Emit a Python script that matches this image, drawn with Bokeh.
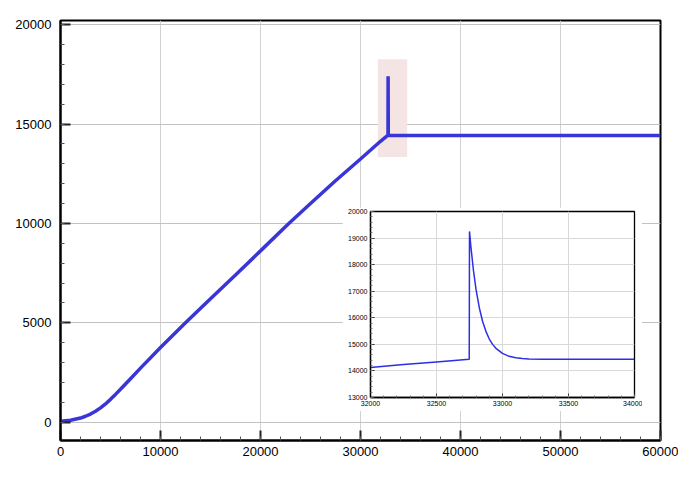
import numpy as np
from bokeh.plotting import figure
from bokeh.models import Range1d, FixedTicker
from bokeh.layouts import column
from bokeh.embed import file_html
from bokeh.resources import INLINE

# ---- main curve ----
x_main = [0, 1000, 2000, 2500, 3000, 3500, 4000, 4500, 5000, 5500, 6000, 7000, 8000,
          10000, 12500, 15000, 17500, 20000, 22830, 25000, 27500, 30000, 32000,
          32750, 32760, 32780, 33000, 45000, 60000]
y_main = [50, 95, 210, 300, 410, 550, 720, 920, 1150, 1400, 1660, 2190, 2720,
          3760, 5000, 6210, 7410, 8620, 10000, 11000, 12150, 13240, 14133,
          14440, 17400, 14440, 14430, 14430, 14430]

# ---- inset curve (zoom on the spike) ----
x_inset = [32000, 32250, 32500, 32748, 32750, 32760, 32780, 32800, 32825, 32850,
           32875, 32900, 32925, 32950, 33000, 33050, 33100, 33150, 33200, 33300,
           33600, 34000]
y_inset = [14133, 14240, 14340, 14440, 19250, 18700, 17780, 17050, 16360, 15850,
           15480, 15200, 15000, 14850, 14660, 14550, 14500, 14470, 14450, 14440,
           14435, 14435]

# ---- highlight box ----
box_left = [31730]
box_right = [34670]
box_bottom = [13340]
box_top = [18260]

# ---- ticks ----
x_ticks = [0, 10000, 20000, 30000, 40000, 50000, 60000]
y_ticks = [0, 5000, 10000, 15000, 20000]
inset_x_ticks = [32000, 32500, 33000, 33500, 34000]
inset_y_ticks = [13000, 14000, 15000, 16000, 17000, 18000, 19000, 20000]

FONT = "Liberation Sans"
LINE_MAIN = "#3a35d6"
LINE_INSET = "#2e2ee6"

# ================= main figure =================
p = figure(width=678, height=478,
           min_border_left=60, min_border_right=18, min_border_top=20, min_border_bottom=38,
           x_range=Range1d(0, 60000), y_range=Range1d(-920, 20210),
           output_backend="svg", toolbar_location=None)
p.outline_line_color = "black"
p.outline_line_width = 2
p.background_fill_color = "white"
p.border_fill_color = "white"
p.frame_align = False

xt = FixedTicker(ticks=x_ticks, minor_ticks=list(np.arange(0, 60001, 2000)))
yt = FixedTicker(ticks=y_ticks, minor_ticks=list(np.arange(0, 20001, 1000)))
p.xaxis.ticker = xt
p.yaxis.ticker = yt
p.xgrid.ticker = xt
p.ygrid.ticker = yt
p.xgrid.grid_line_color = "#d2d2d2"
p.ygrid.grid_line_color = "#c2c2c2"
p.xgrid.grid_line_width = 1
p.ygrid.grid_line_width = 1

for ax in (p.xaxis[0], p.yaxis[0]):
    ax.axis_line_color = "black"
    ax.axis_line_width = 2
    ax.major_tick_in = 10
    ax.major_tick_out = 0
    ax.minor_tick_in = 4
    ax.minor_tick_out = 0
    ax.major_tick_line_color = "#222222"
    ax.major_tick_line_width = 2
    ax.minor_tick_line_color = "#555555"
    ax.minor_tick_line_width = 1
    ax.major_label_text_font = FONT
    ax.major_label_text_font_size = "13px"
    ax.major_label_text_color = "black"
p.yaxis.major_label_standoff = 9
p.xaxis.major_label_standoff = 6

p.quad(left=box_left, right=box_right, bottom=box_bottom, top=box_top,
       fill_color="#f4e4e4", line_color=None)
p.line(x_main, y_main, line_color=LINE_MAIN, line_width=3.5)

# ================= inset figure =================
q = figure(width=300, height=204,
           min_border_left=28, min_border_right=8, min_border_top=4, min_border_bottom=14,
           x_range=Range1d(32000, 34000), y_range=Range1d(13000, 20000),
           output_backend="svg", toolbar_location=None)
q.outline_line_color = "black"
q.outline_line_width = 1.3
q.background_fill_color = "white"
q.border_fill_color = "white"
q.frame_align = False

ixt = FixedTicker(ticks=inset_x_ticks, minor_ticks=list(np.arange(32000, 34001, 100)))
iyt = FixedTicker(ticks=inset_y_ticks, minor_ticks=list(np.arange(13000, 20001, 200)))
q.xaxis.ticker = ixt
q.yaxis.ticker = iyt
q.xgrid.ticker = ixt
q.ygrid.ticker = iyt
q.xgrid.grid_line_color = "#d8d8d8"
q.ygrid.grid_line_color = "#d8d8d8"

for ax in (q.xaxis[0], q.yaxis[0]):
    ax.axis_line_color = "black"
    ax.axis_line_width = 1.3
    ax.major_tick_in = 4
    ax.major_tick_out = 0
    ax.minor_tick_in = 2
    ax.minor_tick_out = 0
    ax.major_tick_line_color = "#333333"
    ax.minor_tick_line_color = "#777777"
    ax.major_label_text_font = FONT
    ax.major_label_text_font_size = "7px"
    ax.major_label_text_color = "black"
    ax.major_label_standoff = 3

q.line(x_inset, y_inset, line_color=LINE_INSET, line_width=1.5)

q.margin = (-271, 0, 0, 342)
p.margin = (0, 0, 0, 0)

layout = column(p, q, spacing=0)
layout.margin = (0, 0, 0, 0)

open("out.html", "w").write(file_html(layout, INLINE))
